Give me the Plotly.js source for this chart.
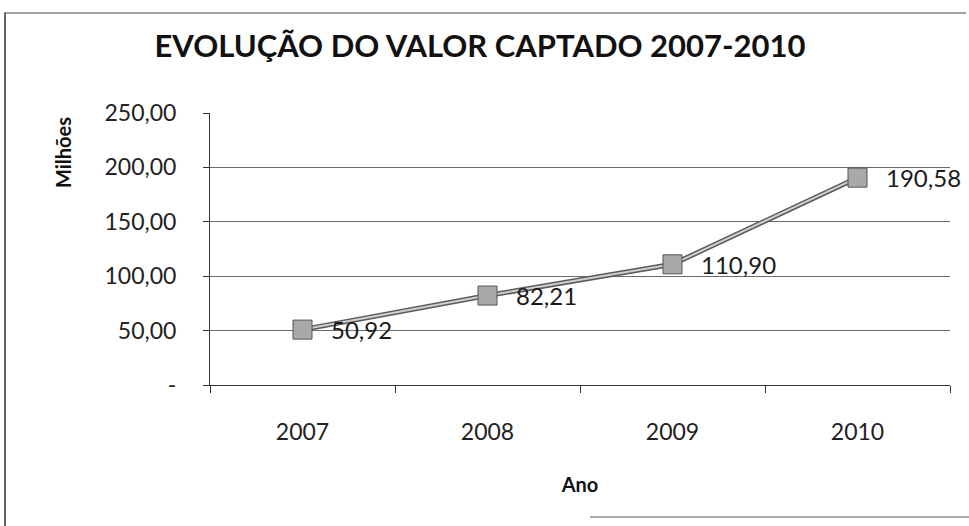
<!DOCTYPE html>
<html>
<head>
<meta charset="utf-8">
<script src="https://cdn.plot.ly/plotly-3.0.1.min.js"></script>
<style>html,body{margin:0;padding:0;background:#fff;}#chart{width:969px;height:526px;}</style>
</head>
<body>
<div id="chart"></div>
<script>
var years = ["2007", "2008", "2009", "2010"];
var values = [50.92, 82.21, 110.90, 190.58];
var valueLabels = ["50,92", "82,21", "110,90", "190,58"];
var yTickVals = [0, 50, 100, 150, 200, 250];
var yTickText = ["-", "50,00", "100,00", "150,00", "200,00", "250,00"];

var FONT = "Lato, 'Open Sans', sans-serif";
var L = 210, R = 19, T = 113, B = 141, W = 969, H = 526;
var pw = W - L - R, ph = H - T - B;
function px(x) { return (x - L) / pw; }
function py(y) { return 1 - (y - T) / ph; }

var traces = [
  {x: years, y: values, type: "scatter", mode: "lines",
   line: {color: "#5a5a5a", width: 5}, hoverinfo: "skip", showlegend: false},
  {x: years, y: values, type: "scatter", mode: "lines+markers",
   line: {color: "#cfcfcf", width: 2},
   marker: {symbol: "square", size: 19, color: "#a9a9a9", line: {color: "#555", width: 1}},
   showlegend: false}
];

var annotations = years.map(function (yr, i) {
  return {x: i, y: values[i], xref: "x", yref: "y", text: valueLabels[i],
          showarrow: false, xanchor: "left", yanchor: "middle", xshift: 26, yshift: 0,
          font: {family: FONT, size: 24, color: "#1a1a1a"}};
});
annotations.push({x: px(63), y: py(153), xref: "paper", yref: "paper", text: "<b>Milhões</b>",
  textangle: -90, showarrow: false, xanchor: "center", yanchor: "middle",
  font: {family: FONT, size: 20, color: "#111"}});

var shapes = [
  {type: "line", xref: "paper", yref: "paper", x0: px(4), x1: px(966), y0: py(13), y1: py(13), line: {color: "#444", width: 1}},
  {type: "line", xref: "paper", yref: "paper", x0: px(5), x1: px(5), y0: py(13), y1: py(526), line: {color: "#333", width: 1.5}},
  {type: "line", xref: "paper", yref: "paper", x0: px(590), x1: px(969), y0: py(517), y1: py(517), line: {color: "#555", width: 1}}
];

var layout = {
  width: W, height: H,
  margin: {l: L, r: R, t: T, b: B},
  paper_bgcolor: "#fff", plot_bgcolor: "#fff",
  title: {text: "<b>EVOLUÇÃO DO VALOR CAPTADO 2007-2010</b>", x: 480 / W, xanchor: "center",
          y: 1 - 46 / H, yanchor: "middle", yref: "container",
          font: {family: FONT, size: 31, color: "#111"}},
  xaxis: {type: "category", range: [-0.5, 3.5], showgrid: false, zeroline: false,
          showline: true, linecolor: "#333", linewidth: 1,
          ticks: "outside", tickson: "boundaries", ticklen: 7, tickcolor: "#333",
          ticklabelstandoff: 26,
          tickfont: {family: FONT, size: 23, color: "#222"},
          title: {text: "<b>Ano</b>", standoff: 34, font: {family: FONT, size: 20, color: "#111"}}},
  yaxis: {range: [0, 250], tickvals: yTickVals, ticktext: yTickText,
          showgrid: true, gridcolor: "#6a6a6a", gridwidth: 1, zeroline: false,
          showline: true, linecolor: "#333", linewidth: 1,
          ticks: "outside", ticklen: 6, tickcolor: "#333",
          ticklabelstandoff: 22,
          tickfont: {family: FONT, size: 23, color: "#222"}},
  annotations: annotations,
  shapes: shapes
};

Plotly.newPlot("chart", traces, layout, {displayModeBar: false, staticPlot: true});
</script>
</body>
</html>
